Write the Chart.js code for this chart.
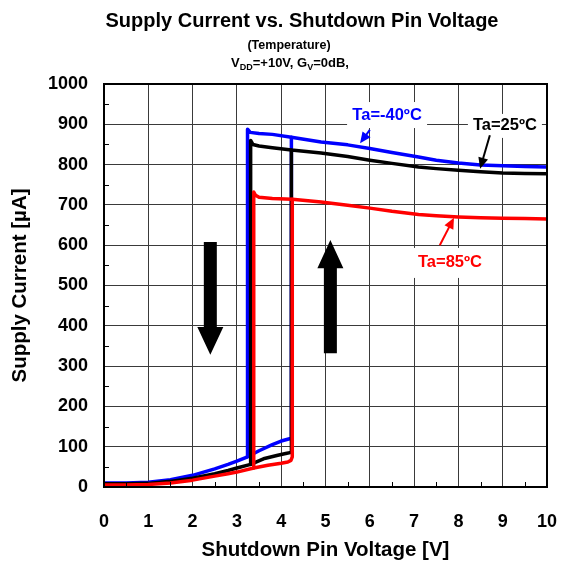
<!DOCTYPE html>
<html>
<head>
<meta charset="utf-8">
<script src="https://cdn.jsdelivr.net/npm/chart.js@4/dist/chart.umd.min.js"></script>
<style>
  html, body { margin: 0; padding: 0; background: #fff; }
  #wrap { width: 561px; height: 566px; }
</style>
</head>
<body>
<div id="wrap"><canvas id="c" width="561" height="566"></canvas></div>
<script>
// Supply current vs. shutdown pin voltage, three temperatures.
// Each temperature has a low branch (rising sweep, up to turn-on)
// and a high branch (falling sweep, down to turn-off).

const xTicks = [0, 1, 2, 3, 4, 5, 6, 7, 8, 9, 10];
const yTicks = [0, 100, 200, 300, 400, 500, 600, 700, 800, 900, 1000];

// Ta = -40 C
const lowV_m40  = [0, 0.5, 1, 1.5, 2, 2.5, 2.8, 3.0, 3.24, 3.5, 3.8, 4.0, 4.23];
const lowI_m40  = [10, 10, 12, 18, 29, 45, 56, 64, 75, 90, 105, 114, 121];
const highV_m40 = [3.24, 3.3, 3.5, 3.8, 4.23, 4.9, 5.5, 6.0, 6.5, 7.1, 7.5, 8.0, 8.5, 9.0, 9.5, 10];
const highI_m40 = [888, 880, 877, 875, 868, 856, 849, 840, 830, 819, 811, 804, 799, 797, 795, 794];

// Ta = 25 C
const lowV_25  = [0, 0.5, 1, 1.5, 2, 2.5, 2.8, 3.0, 3.31, 3.6, 3.9, 4.1, 4.23];
const lowI_25  = [8, 8, 9, 14, 22, 33, 41, 47, 56, 70, 78, 83, 86];
const highV_25 = [3.31, 3.36, 3.5, 3.8, 4.23, 4.9, 5.5, 6.0, 6.5, 7.1, 7.5, 8.0, 8.5, 9.0, 9.5, 10];
const highI_25 = [860, 850, 846, 842, 836, 829, 820, 811, 803, 794, 790, 786, 782, 779, 778, 777];

// Ta = 85 C
const lowV_85  = [0, 0.5, 1, 1.5, 2, 2.5, 2.8, 3.0, 3.38, 3.7, 4.0, 4.15, 4.22, 4.25];
const lowI_85  = [5, 5, 6, 10, 17, 27, 33, 37, 47, 54, 59, 62, 66, 75];
const highV_85 = [3.38, 3.42, 3.5, 3.8, 4.25, 4.9, 5.5, 6.0, 6.5, 7.1, 7.5, 8.0, 8.5, 9.0, 9.5, 10];
const highI_85 = [732, 724, 719, 716, 714, 707, 699, 692, 684, 676, 673, 670, 668, 667, 666, 665];

const temps = [
  { label: 'Ta=-40ºC', color: '#0000ff', lowV: lowV_m40, lowI: lowI_m40, highV: highV_m40, highI: highI_m40, order: 3 },
  { label: 'Ta=25ºC',  color: '#000000', lowV: lowV_25,  lowI: lowI_25,  highV: highV_25,  highI: highI_25,  order: 2 },
  { label: 'Ta=85ºC',  color: '#ff0000', lowV: lowV_85,  lowI: lowI_85,  highV: highV_85,  highI: highI_85,  order: 1 }
];

function pts(vs, is) { return vs.map((v, i) => ({ x: v, y: is[i] })); }

const datasets = [];
temps.forEach(t => {
  // rising sweep: low branch, then jump to the high branch at turn-on
  const rise = pts(t.lowV, t.lowI);
  const vOn = t.lowV[t.lowV.length - 1];
  rise.push({ x: vOn, y: t.highI[t.highV.indexOf(vOn)] });
  // falling sweep: high branch, dropping to the low branch at turn-off
  const fall = pts(t.highV, t.highI);
  const vOff = t.highV[0];
  fall.unshift({ x: vOff, y: t.lowI[t.lowV.indexOf(vOff)] });
  const common = { borderColor: t.color, borderWidth: 3.5, pointRadius: 0, tension: 0,
                   fill: false, borderJoinStyle: 'round', borderCapStyle: 'round', order: t.order };
  datasets.push(Object.assign({ label: t.label + ' rise', data: rise }, common));
  datasets.push(Object.assign({ label: t.label + ' fall', data: fall }, common));
});

const FONT = '"Liberation Sans", Arial, sans-serif';

// labels with pointer arrows, placed in data units
const notes = [
  { text: 'Ta=-40ºC', color: '#0000ff', at: [6.39, 923], from: [6.0, 886], to: [5.78, 853], box: [80, 26] },
  { text: 'Ta=25ºC',  color: '#000000', at: [9.05, 896], from: [8.71, 873], to: [8.49, 790], box: [74, 24] },
  { text: 'Ta=85ºC',  color: '#ff0000', at: [7.81, 556], from: [7.58, 600], to: [7.90, 668], box: [78, 30] }
];

// big sweep-direction arrows: [V, tail I, head base I, tip I]
const sweepArrows = [
  [2.4, 608, 397, 328],
  [5.11, 332, 543, 613]
];

function arrowHead(ctx, x1, y1, x2, y2, len, half) {
  const a = Math.atan2(y2 - y1, x2 - x1);
  ctx.beginPath();
  ctx.moveTo(x2, y2);
  ctx.lineTo(x2 - len * Math.cos(a) + half * Math.sin(a), y2 - len * Math.sin(a) - half * Math.cos(a));
  ctx.lineTo(x2 - len * Math.cos(a) - half * Math.sin(a), y2 - len * Math.sin(a) + half * Math.cos(a));
  ctx.closePath();
  ctx.fill();
}

const decor = {
  id: 'decor',
  beforeDatasetsDraw(chart) {
    const { ctx, scales: { x, y } } = chart;
    ctx.save();
    ctx.fillStyle = '#fff';
    notes.forEach(n => {
      const cx = x.getPixelForValue(n.at[0]), cy = y.getPixelForValue(n.at[1]);
      ctx.fillRect(cx - n.box[0] / 2, cy - n.box[1] / 2, n.box[0], n.box[1]);
    });
    ctx.restore();
  },
  afterDatasetsDraw(chart) {
    const { ctx, chartArea: a, scales: { x, y } } = chart;
    ctx.save();

    // minor ticks, pointing inward
    ctx.strokeStyle = '#000';
    ctx.lineWidth = 1;
    for (let v = 0.5; v < 10; v += 1) {
      const px = Math.round(x.getPixelForValue(v)) + 0.5;
      ctx.beginPath(); ctx.moveTo(px, a.bottom); ctx.lineTo(px, a.bottom - 5); ctx.stroke();
    }
    for (let i = 50; i < 1000; i += 100) {
      const py = Math.round(y.getPixelForValue(i)) + 0.5;
      ctx.beginPath(); ctx.moveTo(a.left, py); ctx.lineTo(a.left + 5, py); ctx.stroke();
    }

    // frame
    ctx.lineWidth = 2;
    ctx.strokeRect(a.left, a.top, a.right - a.left, a.bottom - a.top);

    // sweep-direction arrows
    ctx.fillStyle = '#000';
    sweepArrows.forEach(s => {
      const px = x.getPixelForValue(s[0]);
      const t = y.getPixelForValue(s[1]), b = y.getPixelForValue(s[2]), tip = y.getPixelForValue(s[3]);
      ctx.beginPath();
      ctx.moveTo(px - 6.5, t); ctx.lineTo(px + 6.5, t);
      ctx.lineTo(px + 6.5, b); ctx.lineTo(px + 13, b);
      ctx.lineTo(px, tip); ctx.lineTo(px - 13, b);
      ctx.lineTo(px - 6.5, b); ctx.closePath();
      ctx.fill();
    });

    // curve labels and pointers
    notes.forEach(n => {
      ctx.fillStyle = n.color; ctx.strokeStyle = n.color; ctx.lineWidth = 2;
      const x1 = x.getPixelForValue(n.from[0]), y1 = y.getPixelForValue(n.from[1]);
      const x2 = x.getPixelForValue(n.to[0]), y2 = y.getPixelForValue(n.to[1]);
      const a2 = Math.atan2(y2 - y1, x2 - x1);
      ctx.beginPath(); ctx.moveTo(x1, y1); ctx.lineTo(x2 - 8 * Math.cos(a2), y2 - 8 * Math.sin(a2)); ctx.stroke();
      arrowHead(ctx, x1, y1, x2, y2, 11, 5);
      ctx.font = 'bold 16.5px ' + FONT;
      ctx.textAlign = 'center'; ctx.textBaseline = 'middle';
      ctx.fillText(n.text, x.getPixelForValue(n.at[0]), y.getPixelForValue(n.at[1]));
    });

    // titles
    ctx.fillStyle = '#000';
    ctx.textAlign = 'center'; ctx.textBaseline = 'alphabetic';
    ctx.font = 'bold 20px ' + FONT;
    ctx.fillText('Supply Current vs. Shutdown Pin Voltage', 302, 27);
    ctx.font = 'bold 12.5px ' + FONT;
    ctx.fillText('(Temperature)', 289, 49);

    // V_DD=+10V, G_V=0dB,
    const parts = [['V', 13, 0], ['DD', 9, 3], ['=+10V, G', 13, 0], ['V', 9, 3], ['=0dB,', 13, 0]];
    let w = 0;
    parts.forEach(p => { ctx.font = 'bold ' + p[1] + 'px ' + FONT; w += ctx.measureText(p[0]).width; });
    let cx = 290 - w / 2;
    ctx.textAlign = 'left';
    parts.forEach(p => {
      ctx.font = 'bold ' + p[1] + 'px ' + FONT;
      ctx.fillText(p[0], cx, 67 + p[2]);
      cx += ctx.measureText(p[0]).width;
    });

    // axis titles
    ctx.textAlign = 'center';
    ctx.font = 'bold 20.5px ' + FONT;
    ctx.fillText('Shutdown Pin Voltage [V]', (a.left + a.right) / 2, 556);
    ctx.save();
    ctx.translate(26, (a.top + a.bottom) / 2);
    ctx.rotate(-Math.PI / 2);
    ctx.fillText('Supply Current [µA]', 0, 0);
    ctx.restore();

    ctx.restore();
  }
};

const tickFont = { family: FONT, size: 18, weight: 'bold' };

new Chart(document.getElementById('c'), {
  type: 'line',
  data: { datasets },
  options: {
    responsive: false,
    animation: false,
    layout: { padding: { top: 84, right: 14, left: 0, bottom: 0 } },
    plugins: { legend: { display: false }, tooltip: { enabled: false }, title: { display: false } },
    scales: {
      x: {
        type: 'linear', min: 0, max: 10,
        afterBuildTicks: s => { s.ticks = xTicks.map(v => ({ value: v })); },
        afterFit: s => { s.height = 79; s.paddingLeft = 0; s.paddingRight = 0; },
        grid: { color: '#3a3a3a', lineWidth: 1, drawTicks: false },
        border: { display: false },
        ticks: { padding: 24, color: '#000', font: tickFont, callback: v => String(v) }
      },
      y: {
        type: 'linear', min: 0, max: 1000,
        afterBuildTicks: s => { s.ticks = yTicks.map(v => ({ value: v })); },
        afterFit: s => { s.width = 104; s.paddingTop = 0; s.paddingBottom = 0; },
        grid: { color: '#3a3a3a', lineWidth: 1, drawTicks: false },
        border: { display: false },
        ticks: { padding: 16, color: '#000', font: tickFont, callback: v => String(v) }
      }
    }
  },
  plugins: [decor]
});
</script>
</body>
</html>
